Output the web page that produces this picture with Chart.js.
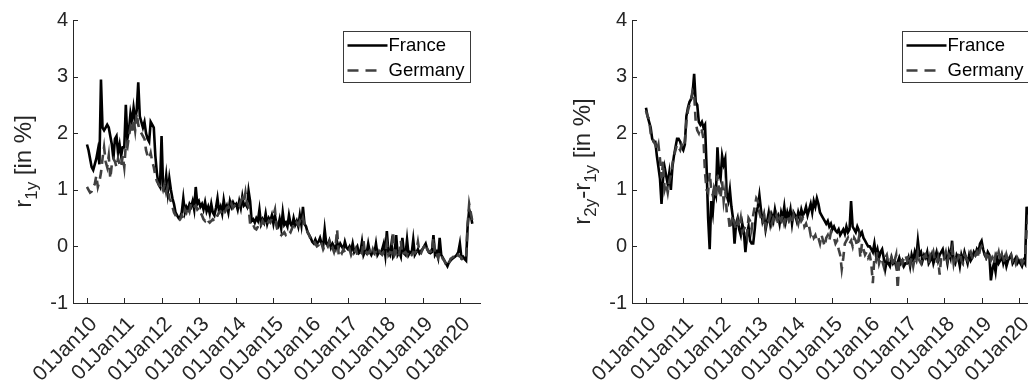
<!DOCTYPE html>
<html><head><meta charset="utf-8">
<script src="https://cdn.jsdelivr.net/npm/chart.js@4.4.1/dist/chart.umd.min.js"></script>
<style>
html,body{margin:0;padding:0;background:#fff;overflow:hidden;width:1028px;height:381px}
#wrap{position:relative;width:1028px;height:381px;overflow:hidden;background:#fff}
.c{position:absolute;top:0;width:520px;height:381px}
#b1{left:0}
#b2{left:559px}
</style></head><body>
<div id="wrap">
<div class="c" id="b1"><canvas id="c1" width="520" height="381"></canvas></div>
<div class="c" id="b2"><canvas id="c2" width="520" height="381"></canvas></div>
</div>
<script>
// ---- data (semi-monthly samples starting 01 Jan 2010) ----
const sampleStartYear = 2010;
const samplesPerYear = 24;
const seriesNames = ['France', 'Germany'];
const tickYears = [2010,2011,2012,2013,2014,2015,2016,2017,2018,2019,2020];
const xTickLabels = ['01Jan10','01Jan11','01Jan12','01Jan13','01Jan14','01Jan15','01Jan16','01Jan17','01Jan18','01Jan19','01Jan20'];
const yTicks = [-1,0,1,2,3,4];

// r_1y, France
const franceR1y = [
1.80,1.70,1.55,1.40,1.35,1.45,1.55,1.70,1.45,2.95,2.10,2.05,2.10,2.15,2.10,1.95,1.80,1.55,1.90,1.95,1.65,1.80,1.60,1.75,
1.75,2.50,1.90,2.05,2.35,2.20,2.45,2.25,2.40,2.90,2.30,2.20,2.10,2.20,2.00,1.90,1.85,2.20,2.15,2.10,1.60,1.30,1.10,1.05,
1.95,1.05,1.00,1.25,0.95,1.20,1.00,0.85,0.75,0.60,0.55,0.50,0.52,0.60,0.85,0.60,0.70,0.65,0.75,0.70,0.80,0.65,1.05,0.75,
0.80,0.70,0.75,0.65,0.78,0.62,0.70,0.58,0.75,0.60,0.55,0.68,0.85,0.62,0.70,0.58,0.82,0.65,0.72,0.60,0.80,0.70,0.78,0.72,
0.75,0.65,0.80,0.68,0.88,0.72,0.75,0.70,0.98,0.80,0.45,0.48,0.42,0.50,0.45,0.65,0.40,0.48,0.42,0.58,0.40,0.50,0.45,0.55,
0.40,0.55,0.38,0.35,0.48,0.32,0.60,0.38,0.42,0.35,0.55,0.40,0.35,0.50,0.38,0.45,0.35,0.55,0.38,0.70,0.40,0.35,0.25,0.20,
0.15,0.08,0.05,0.12,0.05,0.08,0.15,0.05,0.00,0.30,0.05,0.02,0.10,-0.02,0.05,0.00,-0.05,0.08,-0.02,0.05,0.00,-0.05,0.08,-0.02,
-0.05,0.00,-0.08,0.05,-0.10,-0.05,0.00,-0.12,-0.10,0.08,-0.15,-0.08,-0.12,0.05,-0.10,-0.15,-0.08,-0.12,0.05,-0.15,-0.10,-0.12,-0.05,0.05,
-0.15,0.27,-0.10,-0.15,0.05,-0.18,-0.12,0.20,-0.15,-0.10,-0.18,0.15,-0.12,-0.15,0.12,-0.15,-0.10,-0.12,0.12,-0.15,-0.10,-0.05,-0.12,-0.08,
-0.05,0.00,0.05,-0.05,-0.10,-0.12,-0.10,0.20,-0.15,-0.10,-0.20,0.15,-0.15,-0.20,-0.25,-0.30,-0.35,-0.28,-0.25,-0.22,-0.20,-0.18,-0.15,-0.10,
0.05,-0.20,-0.18,-0.22,-0.25,0.35,0.65,0.55,0.40
];
// r_1y, Germany
const germanyR1y = [
1.05,1.00,0.95,0.97,1.05,1.10,1.25,1.05,1.15,1.30,1.55,1.75,1.50,1.40,1.60,1.20,1.45,1.55,1.50,1.40,1.55,1.45,1.40,1.60,
1.40,1.80,1.75,1.95,2.10,2.00,2.25,2.05,2.35,2.15,2.05,2.00,1.95,1.90,1.70,1.60,1.55,1.65,1.50,1.40,1.25,1.15,1.10,1.05,
1.10,1.00,1.10,0.95,1.05,0.85,0.80,0.70,0.60,0.55,0.50,0.45,0.48,0.55,0.50,0.65,0.60,0.70,0.62,0.75,0.68,0.70,0.72,0.65,
0.68,0.60,0.55,0.48,0.45,0.50,0.45,0.42,0.45,0.48,0.44,0.50,0.55,0.60,0.62,0.58,0.65,0.62,0.68,0.70,0.65,0.75,0.68,0.72,
0.70,0.75,0.72,0.80,0.85,0.78,0.95,0.75,0.70,0.40,0.35,0.38,0.32,0.30,0.35,0.42,0.38,0.45,0.40,0.35,0.40,0.45,0.42,0.50,
0.55,0.65,0.35,0.25,0.22,0.20,0.22,0.25,0.20,0.22,0.28,0.25,0.32,0.38,0.35,0.42,0.38,0.45,0.40,0.50,0.38,0.32,0.25,0.20,
0.12,0.08,0.10,0.05,0.00,0.02,0.10,0.05,-0.05,0.02,0.05,0.00,0.08,-0.05,-0.02,-0.10,0.00,0.30,-0.15,-0.08,-0.12,-0.05,-0.10,-0.08,
-0.10,-0.05,-0.15,-0.08,-0.12,-0.05,-0.15,-0.10,-0.08,-0.12,0.10,-0.15,-0.10,-0.12,-0.08,-0.15,-0.05,-0.12,-0.10,-0.15,-0.08,-0.12,-0.15,-0.10,
-0.12,0.05,-0.15,-0.10,-0.12,0.25,-0.15,-0.10,-0.18,-0.12,0.10,-0.15,-0.12,-0.10,-0.15,-0.08,-0.12,-0.15,-0.10,-0.12,-0.08,0.08,-0.10,-0.12,
-0.05,0.00,0.05,-0.05,-0.10,-0.08,-0.12,0.15,-0.15,-0.12,-0.20,-0.10,-0.15,-0.22,-0.25,-0.32,-0.35,-0.30,-0.22,-0.20,-0.18,-0.15,-0.20,-0.15,
-0.18,-0.20,-0.25,-0.22,-0.20,0.40,0.75,0.60,0.45
];
// r_2y - r_1y, France
const franceSpread = [
2.45,2.30,2.20,2.10,1.90,1.85,1.85,1.60,1.40,1.20,0.75,1.20,1.40,1.25,1.10,1.30,1.00,1.40,1.60,1.75,1.90,1.90,1.85,1.75,
1.70,1.80,2.30,2.45,2.55,2.60,2.70,3.05,2.55,2.50,2.20,2.15,2.20,2.10,2.15,1.40,0.50,-0.05,0.80,0.60,1.00,0.90,1.75,1.30,
1.20,1.60,1.45,1.55,0.90,0.80,1.00,0.70,0.50,0.05,0.40,0.50,0.30,0.20,0.40,0.25,-0.10,0.20,0.35,0.10,0.05,0.05,0.30,0.60,
0.70,0.90,0.65,0.45,0.55,0.30,0.45,0.60,0.40,0.55,0.45,0.65,0.50,0.55,0.40,0.60,0.50,0.70,0.45,0.60,0.50,0.65,0.40,0.60,
0.55,0.45,0.60,0.50,0.65,0.55,0.60,0.70,0.55,0.65,0.75,0.60,0.80,0.70,0.85,0.75,0.60,0.55,0.50,0.45,0.40,0.45,0.35,0.40,
0.30,0.35,0.28,0.25,0.30,0.20,0.25,0.30,0.22,0.35,0.25,0.30,0.80,0.35,0.30,0.25,0.35,0.28,0.20,0.25,0.15,0.10,0.05,0.00,
0.00,-0.05,-0.10,0.05,-0.15,-0.05,-0.20,-0.10,-0.05,-0.20,-0.40,-0.25,-0.30,-0.35,-0.20,-0.30,-0.25,-0.35,-0.28,-0.20,-0.30,-0.25,-0.35,-0.30,
-0.30,-0.20,-0.35,-0.15,-0.25,-0.10,-0.20,0.10,-0.15,-0.10,-0.25,-0.15,-0.20,-0.10,-0.30,-0.25,-0.15,-0.30,-0.20,-0.10,-0.25,-0.15,-0.10,-0.05,
-0.20,-0.15,-0.30,-0.10,-0.20,0.10,-0.25,-0.30,-0.15,-0.20,-0.35,-0.15,-0.25,-0.10,-0.20,-0.30,-0.15,-0.25,-0.20,-0.10,-0.15,-0.05,-0.10,0.05,
0.10,-0.05,-0.15,-0.20,-0.10,-0.15,-0.60,-0.40,-0.30,-0.45,-0.20,-0.30,-0.25,-0.15,-0.30,-0.20,-0.35,-0.25,-0.20,-0.15,-0.30,-0.25,-0.20,-0.30,
-0.25,-0.30,-0.35,-0.25,-0.30,0.70,0.50,0.60,0.55
];
// r_2y - r_1y, Germany
const germanySpread = [
2.40,2.30,2.25,2.00,1.95,1.85,1.80,1.70,1.80,1.55,1.20,1.50,1.00,1.10,0.95,1.15,1.25,1.45,1.60,1.70,1.80,1.75,1.70,1.80,
1.75,1.85,2.20,2.40,2.50,2.60,2.75,2.70,2.20,2.05,2.00,2.10,2.05,1.90,1.30,1.00,0.95,1.30,1.00,0.90,1.10,0.85,1.25,1.00,
0.85,1.15,0.80,1.00,0.60,0.55,0.30,0.45,0.55,0.40,0.30,0.45,0.35,0.50,0.25,0.30,0.35,0.20,0.50,0.45,0.30,0.55,0.70,0.85,
0.80,0.60,0.50,0.40,0.55,0.35,0.50,0.45,0.55,0.40,0.50,0.45,0.55,0.40,0.50,0.45,0.55,0.40,0.50,0.55,0.45,0.50,0.40,0.55,
0.45,0.50,0.40,0.55,0.45,0.50,0.35,0.40,0.30,0.35,0.20,0.25,0.15,0.20,0.10,0.15,0.05,0.20,0.10,0.00,0.15,0.20,0.10,0.25,
0.20,0.15,0.05,0.10,-0.05,-0.15,-0.40,-0.20,0.05,0.10,0.15,0.05,0.10,0.00,0.15,0.10,0.00,0.15,-0.20,0.05,-0.05,-0.15,-0.10,-0.20,
-0.15,-0.30,-0.65,-0.20,-0.25,-0.10,-0.30,-0.20,-0.25,-0.35,-0.20,-0.15,-0.30,-0.25,-0.20,-0.35,-0.25,-0.15,-0.75,-0.25,-0.20,-0.30,-0.20,-0.15,
-0.25,-0.15,-0.30,-0.20,-0.35,-0.20,-0.25,-0.10,-0.25,-0.30,-0.15,-0.20,-0.15,-0.25,-0.30,-0.15,-0.20,-0.10,-0.25,-0.30,-0.20,-0.50,-0.20,-0.15,
-0.20,-0.10,-0.25,-0.15,-0.20,-0.05,-0.30,-0.15,-0.25,-0.20,-0.10,-0.25,-0.30,-0.15,-0.20,-0.25,-0.15,-0.10,-0.20,-0.25,-0.15,-0.10,-0.20,-0.05,
0.00,-0.05,-0.10,-0.20,-0.15,-0.10,-0.25,-0.20,-0.30,-0.15,-0.20,-0.10,-0.25,-0.15,-0.20,-0.30,-0.15,-0.25,-0.20,-0.15,-0.25,-0.20,-0.30,-0.20,
-0.25,-0.20,-0.30,-0.25,-0.20,0.30,0.50,0.45,0.40
];

// ---- rendering ----
const FONT = '"Liberation Sans", Arial, Helvetica, sans-serif';
const AXC = '#262626';
const toXY = arr => arr.map((v, i) => ({x: sampleStartYear + i / samplesPerYear, y: v}));

function titleParts(parts) {
  return {
    id: 'ytitle',
    afterDraw(chart) {
      const ctx = chart.ctx, ca = chart.chartArea;
      const big = '24px ' + FONT, small = '17px ' + FONT;
      ctx.save();
      let w = 0;
      parts.forEach(p => { ctx.font = p.sub ? small : big; w += ctx.measureText(p.t).width; });
      ctx.translate(ca.left - 49, (ca.top + ca.bottom) / 2);
      ctx.rotate(-Math.PI / 2);
      ctx.fillStyle = AXC;
      ctx.textBaseline = 'middle';
      ctx.textAlign = 'left';
      let x = -w / 2;
      parts.forEach(p => {
        ctx.font = p.sub ? small : big;
        ctx.fillText(p.t, x, p.sub ? 8 : 0);
        x += ctx.measureText(p.t).width;
      });
      ctx.restore();
    }
  };
}

const decor = {
  id: 'decor',
  afterDraw(chart) {
    const ctx = chart.ctx, ca = chart.chartArea;
    const xs = chart.scales.x, ys = chart.scales.y;
    ctx.save();
    ctx.strokeStyle = AXC; ctx.lineWidth = 1;
    ctx.beginPath();
    tickYears.forEach(t => { const px = Math.round(xs.getPixelForValue(t)) + 0.5; ctx.moveTo(px, ca.bottom); ctx.lineTo(px, ca.bottom - 5); });
    yTicks.forEach(v => { const py = Math.round(ys.getPixelForValue(v)) + 0.5; ctx.moveTo(ca.left, py); ctx.lineTo(ca.left + 5, py); });
    ctx.stroke();
    // legend
    const bx = ca.left + 270.5, by = ca.top + 11.5, bw = 127, bh = 51;
    ctx.fillStyle = '#fff'; ctx.fillRect(bx, by, bw, bh);
    ctx.strokeStyle = '#3a3a3a'; ctx.lineWidth = 1; ctx.strokeRect(bx, by, bw, bh);
    ctx.font = '18.5px ' + FONT; ctx.textBaseline = 'middle'; ctx.fillStyle = '#000';
    ctx.lineWidth = 2.6;
    ctx.beginPath(); ctx.strokeStyle = '#000'; ctx.moveTo(bx + 4, by + 14); ctx.lineTo(bx + 44, by + 14); ctx.stroke();
    ctx.fillText(seriesNames[0], bx + 45, by + 14);
    ctx.beginPath(); ctx.strokeStyle = '#404040'; ctx.setLineDash([11, 7]); ctx.moveTo(bx + 4, by + 39); ctx.lineTo(bx + 34, by + 39); ctx.stroke();
    ctx.setLineDash([]);
    ctx.fillText(seriesNames[1], bx + 45, by + 39);
    ctx.restore();
  }
};

function makeChart(id, fr, de, parts) {
  new Chart(document.getElementById(id), {
    type: 'line',
    data: {
      datasets: [
        {label: seriesNames[0], data: toXY(fr), borderColor: '#000', borderWidth: 2.6, pointRadius: 0, tension: 0, fill: false, order: 1},
        {label: seriesNames[1], data: toXY(de), borderColor: '#404040', borderWidth: 2.6, borderDash: [9, 6], pointRadius: 0, tension: 0, fill: false, order: 0}
      ]
    },
    options: {
      responsive: false, animation: false, devicePixelRatio: 1,
      layout: {padding: {top: 20, right: 40, left: 0, bottom: 0}},
      plugins: {legend: {display: false}, tooltip: {enabled: false}},
      scales: {
        x: {
          type: 'linear', min: 2009.625, max: 2020.54,
          afterBuildTicks: s => { s.ticks = tickYears.map(v => ({value: v})); },
          afterFit: s => { s.height = 78; },
          grid: {display: false, drawTicks: false},
          border: {display: true, color: AXC, width: 1},
          ticks: {
            autoSkip: false, minRotation: 45, maxRotation: 45, padding: 9, labelOffset: 7,
            color: AXC, font: {family: FONT, size: 21},
            callback: v => xTickLabels[tickYears.indexOf(v)]
          }
        },
        y: {
          type: 'linear', min: -1, max: 4,
          afterBuildTicks: s => { s.ticks = yTicks.map(v => ({value: v})); },
          afterFit: s => { s.width = 73; },
          grid: {display: false, drawTicks: false},
          border: {display: true, color: AXC, width: 1},
          ticks: {padding: 5, color: AXC, font: {family: FONT, size: 20}}
        }
      }
    },
    plugins: [titleParts(parts), decor]
  });
}

makeChart('c1', franceR1y, germanyR1y, [{t: 'r'}, {t: '1y', sub: true}, {t: ' [in %]'}]);
makeChart('c2', franceSpread, germanySpread, [{t: 'r'}, {t: '2y', sub: true}, {t: '-r'}, {t: '1y', sub: true}, {t: ' [in %]'}]);
</script>
</body></html>
